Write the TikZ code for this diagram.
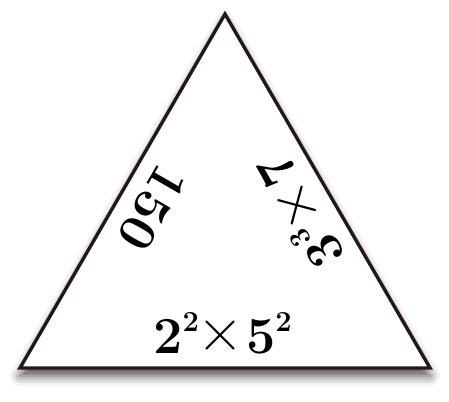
\documentclass[tikz,border=0pt]{standalone}
\usetikzlibrary{shadows.blur}
\definecolor{edgeink}{HTML}{231815}
\newcommand{\bigsz}{\fontsize{52}{56}\selectfont\bfseries}
\newcommand{\pwr}[2]{{\bigsz #1}\raisebox{22pt}{\fontsize{29}{30}\selectfont\bfseries #2}}
\newcommand{\tms}{\raisebox{2pt}{\makebox[23pt]{\fontsize{64}{64}\selectfont\mdseries ×}}}
\tikzset{
  tri/.style={draw=edgeink, line width=3.4pt, line join=miter, fill=white,
    blur shadow={shadow xshift=0pt, shadow yshift=-8pt, shadow blur radius=10pt, shadow opacity=70}},
  lab/.style={inner sep=0pt, outer sep=0pt, text=black}
}
\begin{document}
\begin{tikzpicture}[x=1pt, y=-1pt]
\useasboundingbox (0,0) rectangle (449,401);
\coordinate (A) at (225,14);
\coordinate (B) at (20,368);
\coordinate (C) at (430,368);
\path[tri] (A) -- (B) -- (C) -- cycle;
\node[lab, rotate=240] (left) at (152,208) {\bigsz 150};
\node[lab, rotate=120, anchor=base west] (right) at (346,255) {\pwr{3}{3}\kern10pt\tms\kern14pt{\bigsz 7}};
\node[lab, anchor=base west] (bottom) at (153.4,353) {\pwr{2}{2}\kern10pt\tms\kern14pt\pwr{5}{2}};
\end{tikzpicture}
\end{document}
